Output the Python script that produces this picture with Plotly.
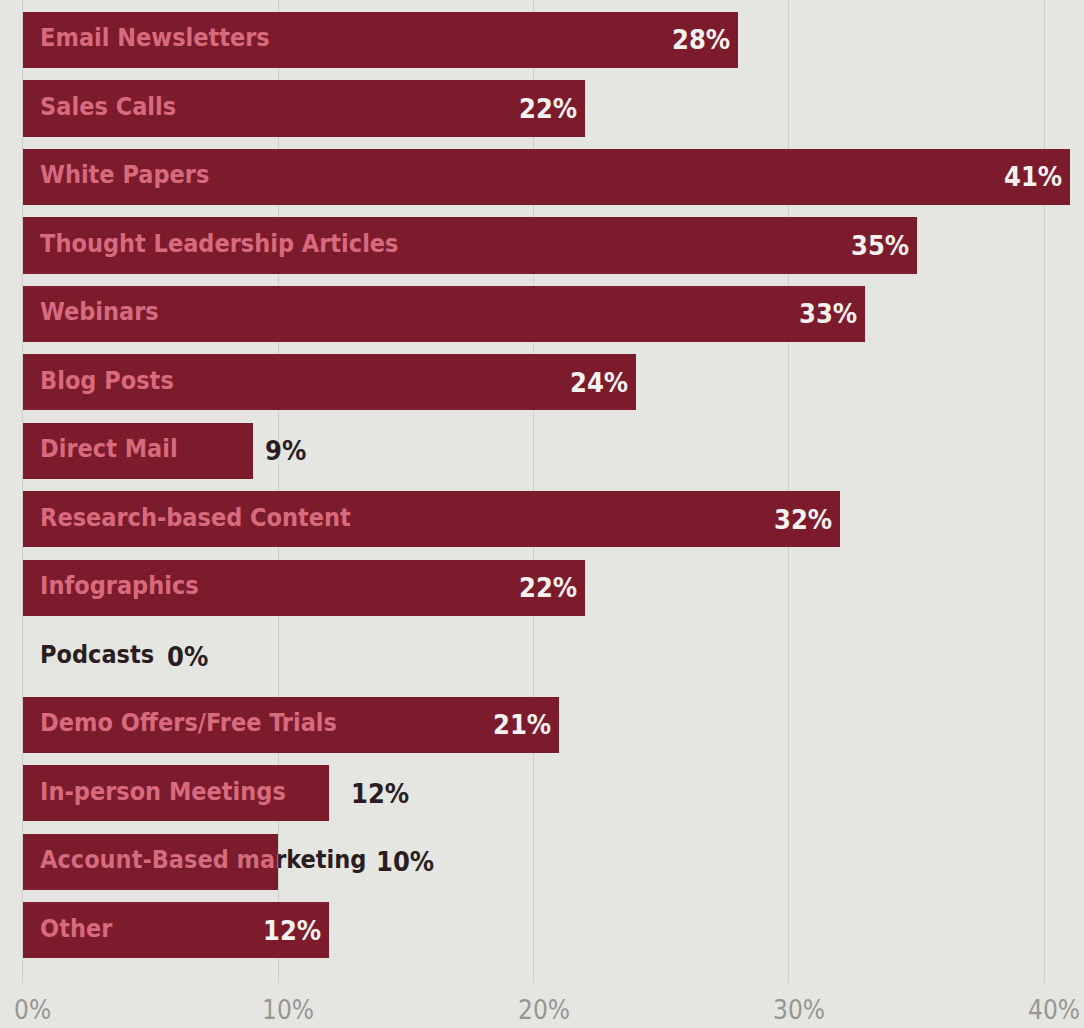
import plotly.graph_objects as go

# ---------------- data ----------------
categories = [
    "Email Newsletters", "Sales Calls", "White Papers", "Thought Leadership Articles",
    "Webinars", "Blog Posts", "Direct Mail", "Research-based Content", "Infographics",
    "Podcasts", "Demo Offers/Free Trials", "In-person Meetings",
    "Account-Based marketing", "Other",
]
values = [28, 22, 41, 35, 33, 24, 9, 32, 22, 0, 21, 12, 10, 12]
tick_vals = [0, 10, 20, 30, 40]
tick_labels = ["0%", "10%", "20%", "30%", "40%"]

# ---------------- style ----------------
W, H = 1084, 1028
X_MIN, X_MAX = -0.9, 41.56
PX_PER_UNIT = W / (X_MAX - X_MIN)
MB = 45
Y_RANGE = [13.77, -0.584]

FONT = "Liberation Sans Narrow, DejaVu Sans Condensed, Arial Narrow, sans-serif"
BG = "#e5e6e1"
GRID = "#cdcec9"
BAR = "#7c1b2c"
PINK = "#d86a7e"
DARK = "#2b1d1f"
WHITE = "#f7f2f2"
TICK = "#969694"
FS_LAB = 25
FS_VAL = 27

# values drawn outside the bar (dark), with pixel offset from bar end
outside_shift = {"Direct Mail": 10, "In-person Meetings": 20,
                 "Account-Based marketing": 96, "Podcasts": 142}
overflow_label = "Account-Based marketing"
LABEL_X = 0.67

y = list(range(len(categories)))

fig = go.Figure()

fig.add_trace(go.Bar(
    x=values, y=y, orientation="h", width=0.82,
    marker=dict(color=BAR, line=dict(width=0)),
    hoverinfo="skip", showlegend=False,
))

lab_colors = []
for c, v in zip(categories, values):
    if v == 0 or c == overflow_label:
        lab_colors.append(DARK)
    else:
        lab_colors.append(PINK)

fig.add_trace(go.Scatter(
    x=[LABEL_X] * len(categories), y=y, mode="text", text=categories,
    textposition="middle right",
    textfont=dict(family=FONT, size=FS_LAB, color=lab_colors, weight="bold"),
    hoverinfo="skip", showlegend=False,
))

# overflow label re-drawn in pink, clipped to its bar via a second subplot
oi = categories.index(overflow_label)
ov = values[oi]
fig.add_trace(go.Scatter(
    x=[LABEL_X], y=[oi], mode="text", text=[overflow_label],
    textposition="middle right", xaxis="x2", yaxis="y2",
    textfont=dict(family=FONT, size=FS_LAB, color=PINK, weight="bold"),
    cliponaxis=True, hoverinfo="skip", showlegend=False,
))

annotations = []
for i, (c, v) in enumerate(zip(categories, values)):
    txt = f"{v}%"
    if c in outside_shift:
        annotations.append(dict(
            x=v, y=i, xref="x", yref="y", text=txt, showarrow=False,
            xanchor="left", yanchor="middle", xshift=outside_shift[c],
            font=dict(family=FONT, size=FS_VAL, color=DARK, weight="bold"),
        ))
    else:
        annotations.append(dict(
            x=v, y=i, xref="x", yref="y", text=txt, showarrow=False,
            xanchor="right", yanchor="middle", xshift=-6,
            font=dict(family=FONT, size=FS_VAL, color=WHITE, weight="bold"),
        ))

for tv, tl in zip(tick_vals, tick_labels):
    annotations.append(dict(
        x=tv, y=0, xref="x", yref="paper", text=tl, showarrow=False,
        xanchor="center", yanchor="top", xshift=10, yshift=-10,
        font=dict(family=FONT, size=26, color=TICK),
    ))

x2_end = (ov - X_MIN) * PX_PER_UNIT / W

fig.update_layout(
    width=W, height=H,
    margin=dict(l=0, r=0, t=0, b=MB),
    paper_bgcolor=BG, plot_bgcolor="rgba(0,0,0,0)",
    bargap=0,
    xaxis=dict(range=[X_MIN, X_MAX], domain=[0, 1], tickvals=tick_vals,
               showticklabels=False, showgrid=True, gridcolor=GRID, gridwidth=1,
               zeroline=False, showline=False, fixedrange=True),
    yaxis=dict(range=Y_RANGE, showticklabels=False, showgrid=False,
               zeroline=False, showline=False, fixedrange=True),
    xaxis2=dict(range=[X_MIN, ov], domain=[0, x2_end], anchor="y2",
                visible=False, fixedrange=True),
    yaxis2=dict(range=Y_RANGE, domain=[0, 1], anchor="x2",
                visible=False, fixedrange=True),
    annotations=annotations,
    showlegend=False,
)

fig.write_html("out.html")
